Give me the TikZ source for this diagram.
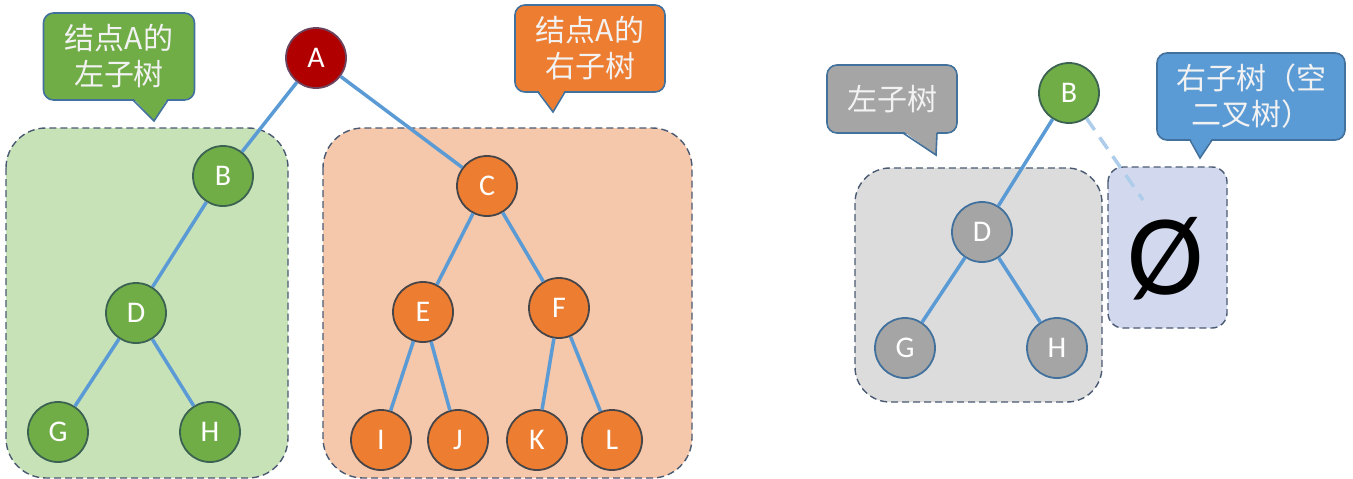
\documentclass[tikz,border=0pt]{standalone}
\usepackage{fontspec}
\setmainfont{Carlito}
\newfontfamily\cjk{Noto Sans CJK SC}
\definecolor{linkblue}{HTML}{5B9BD5}
\definecolor{nodebd}{HTML}{41719C}
\definecolor{treegreen}{HTML}{70AD47}
\definecolor{treeorange}{HTML}{ED7D31}
\definecolor{treered}{HTML}{B00000}
\definecolor{treegray}{HTML}{A5A5A5}
\definecolor{boxgreen}{HTML}{C8E2B8}
\definecolor{boxorange}{HTML}{F5C7AB}
\definecolor{boxgray}{HTML}{DCDCDC}
\definecolor{boxblue}{HTML}{D2D9EE}
\definecolor{grpbd}{HTML}{4A5A72}
\begin{document}
\begin{tikzpicture}[x=1pt, y=-1pt,
    main/.style = {draw=nodebd, line width=1.8pt, circle, minimum size=60pt, inner sep=0pt,
                   text=white, font=\fontsize{30}{30}\selectfont},
    gnode/.style = {main, fill=treegreen, draw=treegreen!45!nodebd!70!black},
    onode/.style = {main, fill=treeorange, draw=treeorange!30!nodebd!60!black},
    rnode/.style = {main, fill=treered, draw=treered!40!nodebd},
    ynode/.style = {main, fill=treegray},
    grp/.style = {draw=grpbd, dash pattern=on 7pt off 4pt, line width=1.4pt},
    note/.style = {draw=nodebd, line width=1.6pt, rounded corners=10pt, inner sep=0pt,
                   text=white!95!black, align=center, font=\cjk\fontsize{30}{36}\selectfont},
    link/.style = {draw=linkblue, line width=3.5pt}]
\useasboundingbox[fill=white] (0,0) rectangle (1353,479);

% group boxes
\draw[grp, fill=boxgreen, rounded corners=40pt] (6,128) rectangle (288,478);
\draw[grp, fill=boxorange, rounded corners=40pt] (323,128) rectangle (692,478);
\draw[grp, fill=boxgray, rounded corners=35pt] (855,168) rectangle (1102,402);
\draw[grp, fill=boxblue, rounded corners=15pt] (1108,167) rectangle (1227,328);

% callouts
\node[note, fill=treegreen, minimum width=151pt, minimum height=87pt] (noteL) at (119,56.5) {结点A的\\左子树};
\fill[treegreen] (133,98) -- (154,121) -- (168,98) -- cycle;
\draw[nodebd, line width=1.6pt] (133,100) -- (154,121) -- (168,100);
\node[note, fill=treeorange, minimum width=150pt, minimum height=87pt] (noteR) at (590,48.5) {结点A的\\右子树};
\fill[treeorange] (538,90) -- (553,112) -- (565,90) -- cycle;
\draw[nodebd, line width=1.6pt] (538,92) -- (553,112) -- (565,92);
\node[note, fill=treegray, minimum width=130pt, minimum height=68pt] (noteG) at (892,99) {左子树};
\fill[treegray] (903,131) -- (936,155) -- (937,131) -- cycle;
\draw[nodebd, line width=1.6pt] (903,133) -- (936,155) -- (937,133);
\node[note, fill=linkblue, minimum width=188pt, minimum height=87pt] (noteB) at (1251,96.5) {右子树（空\\二叉树）};
\fill[linkblue] (1190,138) -- (1200,158) -- (1212,138) -- cycle;
\draw[nodebd, line width=1.6pt] (1190,140) -- (1200,158) -- (1212,140);

% tree of A
\node[rnode] (A) at (316,58) {A};
\node[gnode] (B) at (223,176) {B};
\node[gnode] (D) at (136,313) {D};
\node[gnode] (G) at (58,432) {G};
\node[gnode] (H) at (210,432) {H};
\node[onode] (C) at (487,186) {C};
\node[onode] (E) at (423,312) {E};
\node[onode] (F) at (559,308) {F};
\node[onode] (I) at (381,440) {I};
\node[onode] (J) at (458,440) {J};
\node[onode] (K) at (537,440) {K};
\node[onode] (L) at (612,440) {L};
\draw[link] (A) -- (B);
\draw[link] (A) -- (C);
\draw[link] (B) -- (D);
\draw[link] (D) -- (G);
\draw[link] (D) -- (H);
\draw[link] (C) -- (E);
\draw[link] (C) -- (F);
\draw[link] (E) -- (I);
\draw[link] (E) -- (J);
\draw[link] (F) -- (K);
\draw[link] (F) -- (L);

% tree of B
\node[gnode] (B2) at (1069,93) {B};
\node[ynode] (D2) at (982,232) {D};
\node[ynode] (G2) at (905,348) {G};
\node[ynode] (H2) at (1057,348) {H};
\node[anchor=base, font=\fontsize{115}{115}\selectfont] (nil) at (1166,294) {Ø};
\coordinate (nul) at (1143,200);
\draw[link] (B2) -- (D2);
\draw[link] (D2) -- (G2);
\draw[link] (D2) -- (H2);
\draw[link, draw=linkblue!50, dash pattern=on 14pt off 9pt] (B2) -- (nul);
\end{tikzpicture}
\end{document}
